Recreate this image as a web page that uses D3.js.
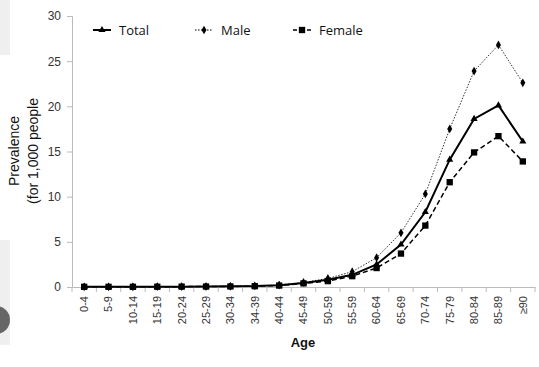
<!DOCTYPE html>
<html lang="en">
<head>
  <meta charset="UTF-8">
  <title>Prevalence by age</title>
  <script src="https://d3js.org/d3.v7.min.js"></script>
  <style>
    body { margin: 0; background: #fff; }
    svg { display: block; }
    .tick text { fill: #333; font-family: 'Liberation Sans', Arial, sans-serif; }
  </style>
</head>
<body>
  <svg width="539" height="367"></svg>
  <script>
    const ages = ["0-4", "5-9", "10-14", "15-19", "20-24", "25-29", "30-34", "34-39", "40-44", "45-49",
                  "50-59", "55-59", "60-64", "65-69", "70-74", "75-79", "80-84", "85-89", "≥90"];
    const total  = [0.02, 0.02, 0.02, 0.03, 0.04, 0.05, 0.07, 0.1, 0.2, 0.45, 0.8, 1.35, 2.5, 4.7, 8.3, 14.1, 18.6, 20.1, 16.1];
    const male   = [0.02, 0.02, 0.02, 0.03, 0.04, 0.05, 0.08, 0.12, 0.22, 0.5, 0.95, 1.7, 3.25, 6.0, 10.3, 17.5, 23.9, 26.8, 22.6];
    const female = [0.02, 0.02, 0.02, 0.03, 0.04, 0.05, 0.06, 0.09, 0.16, 0.4, 0.65, 1.2, 2.1, 3.7, 6.8, 11.6, 14.9, 16.7, 13.9];
    const yTicks = [0, 5, 10, 15, 20, 25, 30];

    const svg = d3.select("svg");
    const m = { left: 72, right: 535, top: 16, bottom: 287 };

    // screenshot leftovers at the left edge
    svg.append("rect").attr("x", 0).attr("y", 0).attr("width", 10).attr("height", 55).attr("fill", "#efefef");
    svg.append("rect").attr("x", 0).attr("y", 240).attr("width", 10).attr("height", 105).attr("fill", "#efefef");
    svg.append("circle").attr("cx", -4).attr("cy", 320).attr("r", 14).attr("fill", "#666");

    const x = d3.scaleBand().domain(ages).range([m.left, m.right]);
    const y = d3.scaleLinear().domain([0, 30]).range([m.bottom, m.top]);

    const yAxis = svg.append("g")
      .attr("transform", `translate(${m.left},0)`)
      .call(d3.axisLeft(y).tickValues(yTicks).tickSize(5).tickPadding(6));
    yAxis.selectAll("text").style("font-size", "12px");
    yAxis.selectAll("line, path").attr("stroke", "#bbb");

    const xAxis = svg.append("g")
      .attr("transform", `translate(0,${m.bottom})`)
      .call(d3.axisBottom(x).tickSize(0).tickPadding(0));
    xAxis.select("path").attr("stroke", "#bbb");
    xAxis.selectAll("text")
      .style("font-size", "11px")
      .attr("text-anchor", "end")
      .attr("transform", "rotate(-90)")
      .attr("x", -9).attr("y", 0).attr("dy", "0.35em");
    // tick marks on category boundaries
    svg.append("g").selectAll("line")
      .data(ages.map((a, i) => i).concat([ages.length]))
      .join("line")
      .attr("x1", i => m.left + i * x.bandwidth())
      .attr("x2", i => m.left + i * x.bandwidth())
      .attr("y1", m.bottom).attr("y2", m.bottom + 5)
      .attr("stroke", "#bbb");

    const cx = d => x(d) + x.bandwidth() / 2;
    const line = vals => d3.line().x((v, i) => cx(ages[i])).y(v => y(v))(vals);

    svg.append("path").attr("d", line(male)).attr("fill", "none")
      .attr("stroke", "#333").attr("stroke-width", 1).attr("stroke-dasharray", "1.5,1.5");
    svg.append("path").attr("d", line(female)).attr("fill", "none")
      .attr("stroke", "#000").attr("stroke-width", 1.5).attr("stroke-dasharray", "5,3");
    svg.append("path").attr("d", line(total)).attr("fill", "none")
      .attr("stroke", "#000").attr("stroke-width", 2);

    const diamond = d3.symbol().type(d3.symbolDiamond).size(22);
    const square = d3.symbol().type(d3.symbolSquare).size(40);
    const tri = d3.symbol().type(d3.symbolTriangle).size(22);

    svg.append("g").selectAll("path").data(male).join("path")
      .attr("d", diamond).attr("transform", (v, i) => `translate(${cx(ages[i])},${y(v)})`).attr("fill", "#000");
    svg.append("g").selectAll("path").data(female).join("path")
      .attr("d", square).attr("transform", (v, i) => `translate(${cx(ages[i])},${y(v)})`).attr("fill", "#000");
    svg.append("g").selectAll("path").data(total).join("path")
      .attr("d", tri).attr("transform", (v, i) => `translate(${cx(ages[i])},${y(v)})`).attr("fill", "#000");

    // legend
    const legend = [
      { name: "Total", x: 93, dash: null, w: 2, sym: tri },
      { name: "Male", x: 195, dash: "1.5,1.5", w: 1, sym: diamond },
      { name: "Female", x: 293, dash: "4,3", w: 1.5, sym: square }
    ];
    const lg = svg.append("g").selectAll("g").data(legend).join("g")
      .attr("transform", d => `translate(${d.x},30)`);
    lg.append("line").attr("x1", 0).attr("x2", 18).attr("stroke", "#000")
      .attr("stroke-width", d => d.w).attr("stroke-dasharray", d => d.dash);
    lg.append("path").attr("d", d => d.sym()).attr("transform", "translate(9,0)").attr("fill", "#000");
    lg.append("text").attr("x", 26).attr("dy", "0.35em")
      .style("font-family", "'Open Sans', 'DejaVu Sans', sans-serif").style("font-size", "13px")
      .attr("fill", "#111").text(d => d.name);

    // axis titles
    svg.append("text")
      .attr("transform", "translate(19,151) rotate(-90)")
      .attr("text-anchor", "middle")
      .style("font-family", "'Liberation Sans', Arial, sans-serif").style("font-size", "14px")
      .attr("fill", "#111").text("Prevalence");
    svg.append("text")
      .attr("transform", "translate(38,151) rotate(-90)")
      .attr("text-anchor", "middle")
      .style("font-family", "'Liberation Sans', Arial, sans-serif").style("font-size", "14px")
      .attr("fill", "#111").text("(for 1,000 people");
    svg.append("text")
      .attr("x", 303).attr("y", 347)
      .attr("text-anchor", "middle")
      .style("font-family", "'Liberation Sans', Arial, sans-serif").style("font-size", "13px")
      .style("font-weight", "bold").attr("fill", "#111").text("Age");
  </script>
</body>
</html>
